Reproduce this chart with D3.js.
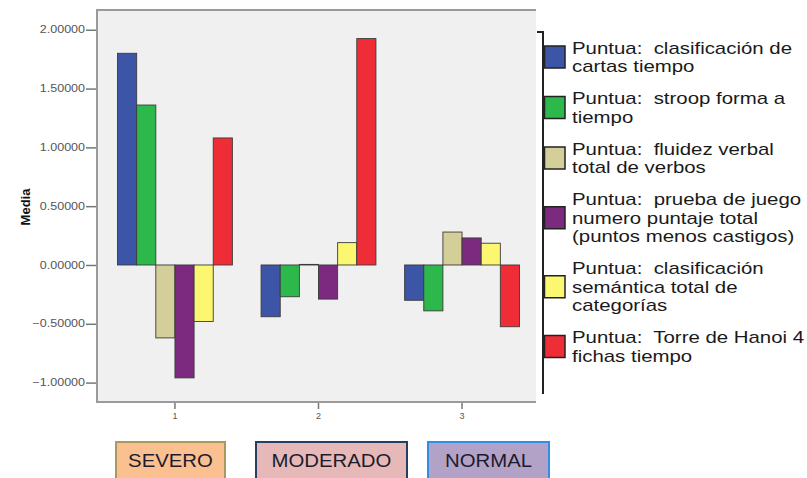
<!DOCTYPE html>
<html>
<head>
<meta charset="utf-8">
<script src="https://cdn.jsdelivr.net/npm/d3@7"></script>
<style>
  html, body { margin: 0; padding: 0; background: #ffffff; }
  svg { display: block; }
  text { white-space: pre; }
</style>
</head>
<body>
<svg id="chart" width="807" height="478"></svg>
<script>
// ---------------- data ----------------
const categories = ["1", "2", "3"];
const groupNames = ["SEVERO", "MODERADO", "NORMAL"];
const seriesNames = [
  ["Puntua:  clasificación de", "cartas tiempo"],
  ["Puntua:  stroop forma a", "tiempo"],
  ["Puntua:  fluidez verbal", "total de verbos"],
  ["Puntua:  prueba de juego", "numero puntaje total", "(puntos menos castigos)"],
  ["Puntua:  clasificación", "semántica total de", "categorías"],
  ["Puntua:  Torre de Hanoi 4", "fichas tiempo"]
];
const seriesColors = ["#3d55a6", "#2db84b", "#d4ce98", "#7b2a7f", "#fcf770", "#ef2d37"];
// values per series, one per category (1,2,3)
const clasifCartas   = [1.80, -0.44, -0.30];
const stroopForma    = [1.36, -0.27, -0.39];
const fluidezVerbal  = [-0.62, 0.005, 0.28];
const pruebaJuego    = [-0.96, -0.29, 0.23];
const clasifSemantica= [-0.48, 0.19, 0.185];
const torreHanoi     = [1.08, 1.925, -0.525];
const seriesValues = [clasifCartas, stroopForma, fluidezVerbal, pruebaJuego, clasifSemantica, torreHanoi];
const yTicks = [-1.0, -0.5, 0.0, 0.5, 1.0, 1.5, 2.0];
const yDomain = [-1.165, 2.168];
const yLabel = "Media";

// ---------------- layout ----------------
const svg = d3.select("#chart");
const plot = { left: 97, right: 536, top: 10, bottom: 402 };
const font = "'Liberation Sans', Arial, sans-serif";

function stretch(sel, k) {
  sel.each(function () {
    const w = this.getComputedTextLength();
    d3.select(this).attr("textLength", w * k).attr("lengthAdjust", "spacingAndGlyphs");
  });
}

const x = d3.scaleBand().domain(categories).range([96, 541]).paddingInner(0.2).paddingOuter(0.15);
const xs = d3.scaleBand().domain(d3.range(seriesValues.length)).range([0, x.bandwidth()]).padding(0);
const y = d3.scaleLinear().domain(yDomain).range([plot.bottom, plot.top]);

// plot background
svg.append("rect")
  .attr("x", plot.left).attr("y", plot.top)
  .attr("width", plot.right - plot.left).attr("height", plot.bottom - plot.top)
  .attr("fill", "#f0f0f0");
// frame lines top/left/bottom
svg.append("path")
  .attr("d", `M${plot.right},${plot.top}H${plot.left}V${plot.bottom}H${plot.right}`)
  .attr("fill", "none").attr("stroke", "#9a9a9a").attr("stroke-width", 2);

// bars
const rows = [];
seriesValues.forEach((vals, si) => vals.forEach((v, ci) => rows.push({ si, cat: categories[ci], v })));
svg.append("g").selectAll("rect").data(rows).join("rect")
  .attr("x", d => x(d.cat) + xs(d.si))
  .attr("width", xs.bandwidth())
  .attr("y", d => y(Math.max(0, d.v)))
  .attr("height", d => Math.abs(y(d.v) - y(0)))
  .attr("fill", d => seriesColors[d.si])
  .attr("stroke", "#3a3a3a").attr("stroke-width", 0.9);

// y axis
const yAxis = svg.append("g")
  .attr("transform", `translate(${plot.left - 1},0)`)
  .call(d3.axisLeft(y).tickValues(yTicks).tickFormat(d3.format(".5f")).tickSize(10).tickPadding(1));
yAxis.select(".domain").remove();
yAxis.selectAll(".tick line").attr("stroke", "#777").attr("stroke-width", 1.5);
yAxis.selectAll(".tick text")
  .attr("font-family", font).attr("font-size", 10).attr("fill", "#555");
stretch(yAxis.selectAll(".tick text"), 1.25);

// x axis
const xAxis = svg.append("g")
  .attr("transform", `translate(0,${plot.bottom + 1})`)
  .call(d3.axisBottom(x).tickSize(6).tickPadding(4));
xAxis.select(".domain").remove();
xAxis.selectAll(".tick line").attr("stroke", "#777").attr("stroke-width", 1.5);
xAxis.selectAll(".tick text")
  .attr("font-family", font).attr("font-size", 9).attr("fill", "#555");

// y label
svg.append("text")
  .attr("transform", `translate(30,207) rotate(-90)`)
  .attr("text-anchor", "middle")
  .attr("font-family", font).attr("font-size", 13).attr("font-weight", "bold").attr("fill", "#111")
  .text(yLabel);

// legend
const legX = 543;
svg.append("path")
  .attr("d", `M537,32H${legX}V394`)
  .attr("fill", "none").attr("stroke", "#222").attr("stroke-width", 2);
const lineH = 18.5, gap = 13.5;
let cursor = 57 - (seriesNames[0].length * lineH) / 2;
const legend = svg.append("g");
seriesNames.forEach((lines, i) => {
  const h = lines.length * lineH;
  const cy = cursor + h / 2;
  legend.append("rect")
    .attr("x", 544.5).attr("y", cy - 11).attr("width", 20.5).attr("height", 22)
    .attr("fill", seriesColors[i]).attr("stroke", "#222").attr("stroke-width", 1.5);
  const t = legend.append("g");
  lines.forEach((ln, j) => {
    t.append("text")
      .attr("x", 572)
      .attr("y", cy - h / 2 + lineH * (j + 0.5) + 6)
      .attr("font-family", font).attr("font-size", 17).attr("fill", "#1a1a1a")
      .text(ln);
  });
  stretch(t.selectAll("text"), 1.2);
  cursor += h + gap;
});

// group label boxes (annotation)
const labelBoxes = [
  { x0: 116, x1: 225, fill: "#fac090", stroke: "#a8995f" },
  { x0: 256, x1: 407, fill: "#e6b9b8", stroke: "#243f60" },
  { x0: 428, x1: 549, fill: "#b3a2c7", stroke: "#2f8fe6" }
];
groupNames.forEach((name, i) => {
  const b = labelBoxes[i];
  svg.append("rect")
    .attr("x", b.x0).attr("y", 442).attr("width", b.x1 - b.x0).attr("height", 50)
    .attr("fill", b.fill).attr("stroke", b.stroke).attr("stroke-width", 2);
  const tx = svg.append("text")
    .attr("x", (b.x0 + b.x1) / 2).attr("y", 467)
    .attr("text-anchor", "middle")
    .attr("font-family", font).attr("font-size", 18).attr("fill", "#1c1c2c")
    .text(name);
  stretch(tx, 1.13);
});
</script>
</body>
</html>
